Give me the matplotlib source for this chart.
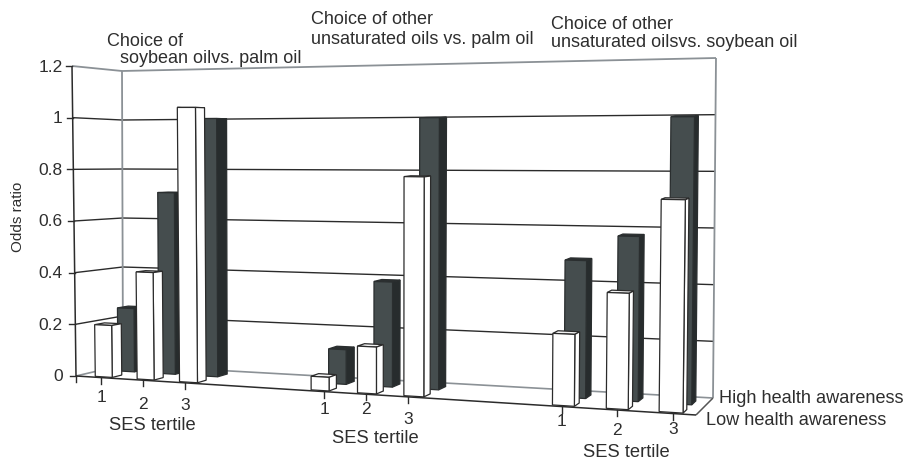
import matplotlib
matplotlib.use('Agg')
import matplotlib.pyplot as plt
from matplotlib.patches import Polygon

plt.rcParams['font.family'] = ['Liberation Sans', 'DejaVu Sans']

#values, order is group 1 tertile 1,2,3 then group 2, group 3
low_awareness = [0.20, 0.41, 1.04, 0.05, 0.17, 0.79, 0.25, 0.40, 0.725]
high_awareness = [0.25, 0.71, 1.00, 0.13, 0.39, 1.00, 0.49, 0.58, 1.00]
y_ticks = [0, 0.2, 0.4, 0.6, 0.8, 1, 1.2]
y_tick_labels = ['0', '0.2', '0.4', '0.6', '0.8', '1', '1.2']
tertiles = ['1', '2', '3'] * 3

#the chart is a hand edited 3d chart so bar places are not evenly spaced
bar_x = [101, 143, 186, 318, 365, 412, 562, 616, 670]
bar_w = [17, 17, 18, 18, 19, 20, 22, 22, 24]
tick_x = [101, 143, 185, 324, 366, 408, 562, 617, 673]
tick_label_y = [398, 405, 406, 410, 410, 420, 422, 431, 430]

#corners of the box in pixels: (x, y) for value 0 and value 1.2
FRONT_LEFT = ((76, 377), (72, 67))
BACK_LEFT = ((123, 366), (122, 72))
FRONT_RIGHT = ((696, 416), (700, 61))
BACK_RIGHT = ((713, 399), (716, 59))
X0 = 76.0
X1 = 696.0
VMAX = 1.2

LOW_D = (0.06, 0.27)
HIGH_D = (0.55, 0.78)

DARK_FRONT = '#454d4e'
DARK_SIDE = '#272c2d'
DARK_TOP = '#2c3031'
LINE = '#2b2b2b'
GREY = '#8b9196'
TEXT = '#2e2e2e'


def project(px, d, v):
    # trilinear mapping of front edge x, depth 0-1 and value to pixels
    u = (px - X0) / (X1 - X0)
    t = v / VMAX
    out = []
    for i in range(2):
        fl = FRONT_LEFT[0][i] * (1 - t) + FRONT_LEFT[1][i] * t
        bl = BACK_LEFT[0][i] * (1 - t) + BACK_LEFT[1][i] * t
        fr = FRONT_RIGHT[0][i] * (1 - t) + FRONT_RIGHT[1][i] * t
        br = BACK_RIGHT[0][i] * (1 - t) + BACK_RIGHT[1][i] * t
        front = fl * (1 - u) + fr * u
        back = bl * (1 - u) + br * u
        out.append(front * (1 - d) + back * d)
    return out


def line3d(ax, a, b, color=LINE, lw=1.0, zorder=2):
    pa = project(*a)
    pb = project(*b)
    ax.plot([pa[0], pb[0]], [pa[1], pb[1]], color=color, lw=lw, zorder=zorder,
            solid_capstyle='butt')


def draw_bar(ax, center, width, value, depth, colors, edge, zorder):
    x0 = center - width / 2
    x1 = center + width / 2
    d0, d1 = depth
    top = [project(x0, d0, value), project(x1, d0, value), project(x1, d1, value), project(x0, d1, value)]
    side = [project(x1, d0, 0), project(x1, d1, 0), project(x1, d1, value), project(x1, d0, value)]
    front = [project(x0, d0, 0), project(x1, d0, 0), project(x1, d0, value), project(x0, d0, value)]
    for pts, col in zip([top, side, front], colors):
        ax.add_patch(Polygon(pts, closed=True, facecolor=col, edgecolor=edge, lw=0.9,
                             joinstyle='miter', zorder=zorder))


fig = plt.figure(figsize=(9.06, 4.6), dpi=100)
ax = fig.add_axes([0, 0, 1, 1])
ax.set_xlim(0, 906)
ax.set_ylim(460, 0)
ax.axis('off')

#walls and floor
for v in y_ticks[1:-1]:
    line3d(ax, (X0, 0, v), (X0, 1, v))
    line3d(ax, (X0, 1, v), (X1, 1, v))
line3d(ax, (X0, 0, 1.2), (X0, 1, 1.2), color=GREY, lw=1.3)
line3d(ax, (X0, 1, 1.2), (X1, 1, 1.2), color=GREY, lw=1.3)
line3d(ax, (X0, 1, 0), (X0, 1, 1.2), color=GREY, lw=1.3)
line3d(ax, (X1, 1, 0), (X1, 1, 1.2), color=GREY, lw=1.3)
line3d(ax, (X0, 0, 0), (X0, 1, 0), color=GREY, lw=1.2)
line3d(ax, (X0, 1, 0), (X1, 1, 0), color=GREY, lw=1.2)
line3d(ax, (X1, 0, 0), (X1, 1, 0), color='#555555', lw=1.1)
line3d(ax, (X0, 0, 0), (X1, 0, 0), lw=1.1)
line3d(ax, (X0, 0, 0), (X0, 0, 1.2), lw=1.1)

#bars, back row first
for i in range(len(bar_x)):
    draw_bar(ax, bar_x[i], bar_w[i], high_awareness[i], HIGH_D,
             [DARK_TOP, DARK_SIDE, DARK_FRONT], '#2a2e2f', 3 + i * 0.01)
for i in range(len(bar_x)):
    draw_bar(ax, bar_x[i], bar_w[i], low_awareness[i], LOW_D,
             ['#f2f2f2', 'white', 'white'], LINE, 4 + i * 0.01)

#y ticks
for v, lab in zip(y_ticks, y_tick_labels):
    x, y = project(X0, 0, v)
    ax.plot([x - 6, x], [y, y], color=LINE, lw=1.0, zorder=5)
    ax.text(62.5, y, lab, ha='right', va='center', fontsize=12.5, color=TEXT)
x, y = project(X0, 0, 0)
ax.plot([x, x], [y, y + 6], color=LINE, lw=1.0, zorder=5)

#x ticks
for px, lab, ly in zip(tick_x, tertiles, tick_label_y):
    x, y = project(px, 0, 0)
    ax.plot([x, x], [y, y + 6], color=LINE, lw=1.0, zorder=5)
    ax.text(x, ly, lab, ha='center', va='center', fontsize=12.5, color=TEXT)

ax.text(18, 217, 'Odds ratio', rotation=90, ha='center', va='center', fontsize=11, color=TEXT)

for sx, sy in [(152, 425.5), (375, 438.5), (626, 453)]:
    ax.text(sx, sy, 'SES tertile', ha='center', va='center', fontsize=13.2, color=TEXT)

ax.text(107, 41.5, 'Choice of', ha='left', va='center', fontsize=13, color=TEXT)
ax.text(120, 58.5, 'soybean oilvs. palm oil', ha='left', va='center', fontsize=13, color=TEXT)
ax.text(311, 19.5, 'Choice of other', ha='left', va='center', fontsize=13, color=TEXT)
ax.text(311, 39.5, 'unsaturated oils vs. palm oil', ha='left', va='center', fontsize=13, color=TEXT)
ax.text(551, 24.5, 'Choice of other', ha='left', va='center', fontsize=13, color=TEXT)
ax.text(551, 42.5, 'unsaturated oilsvs. soybean oil', ha='left', va='center', fontsize=13, color=TEXT)
ax.text(719, 398.5, 'High health awareness', ha='left', va='center', fontsize=13.1, color=TEXT)
ax.text(706, 420.5, 'Low health awareness', ha='left', va='center', fontsize=13.1, color=TEXT)

plt.savefig('out.png', dpi=100)
plt.close()
